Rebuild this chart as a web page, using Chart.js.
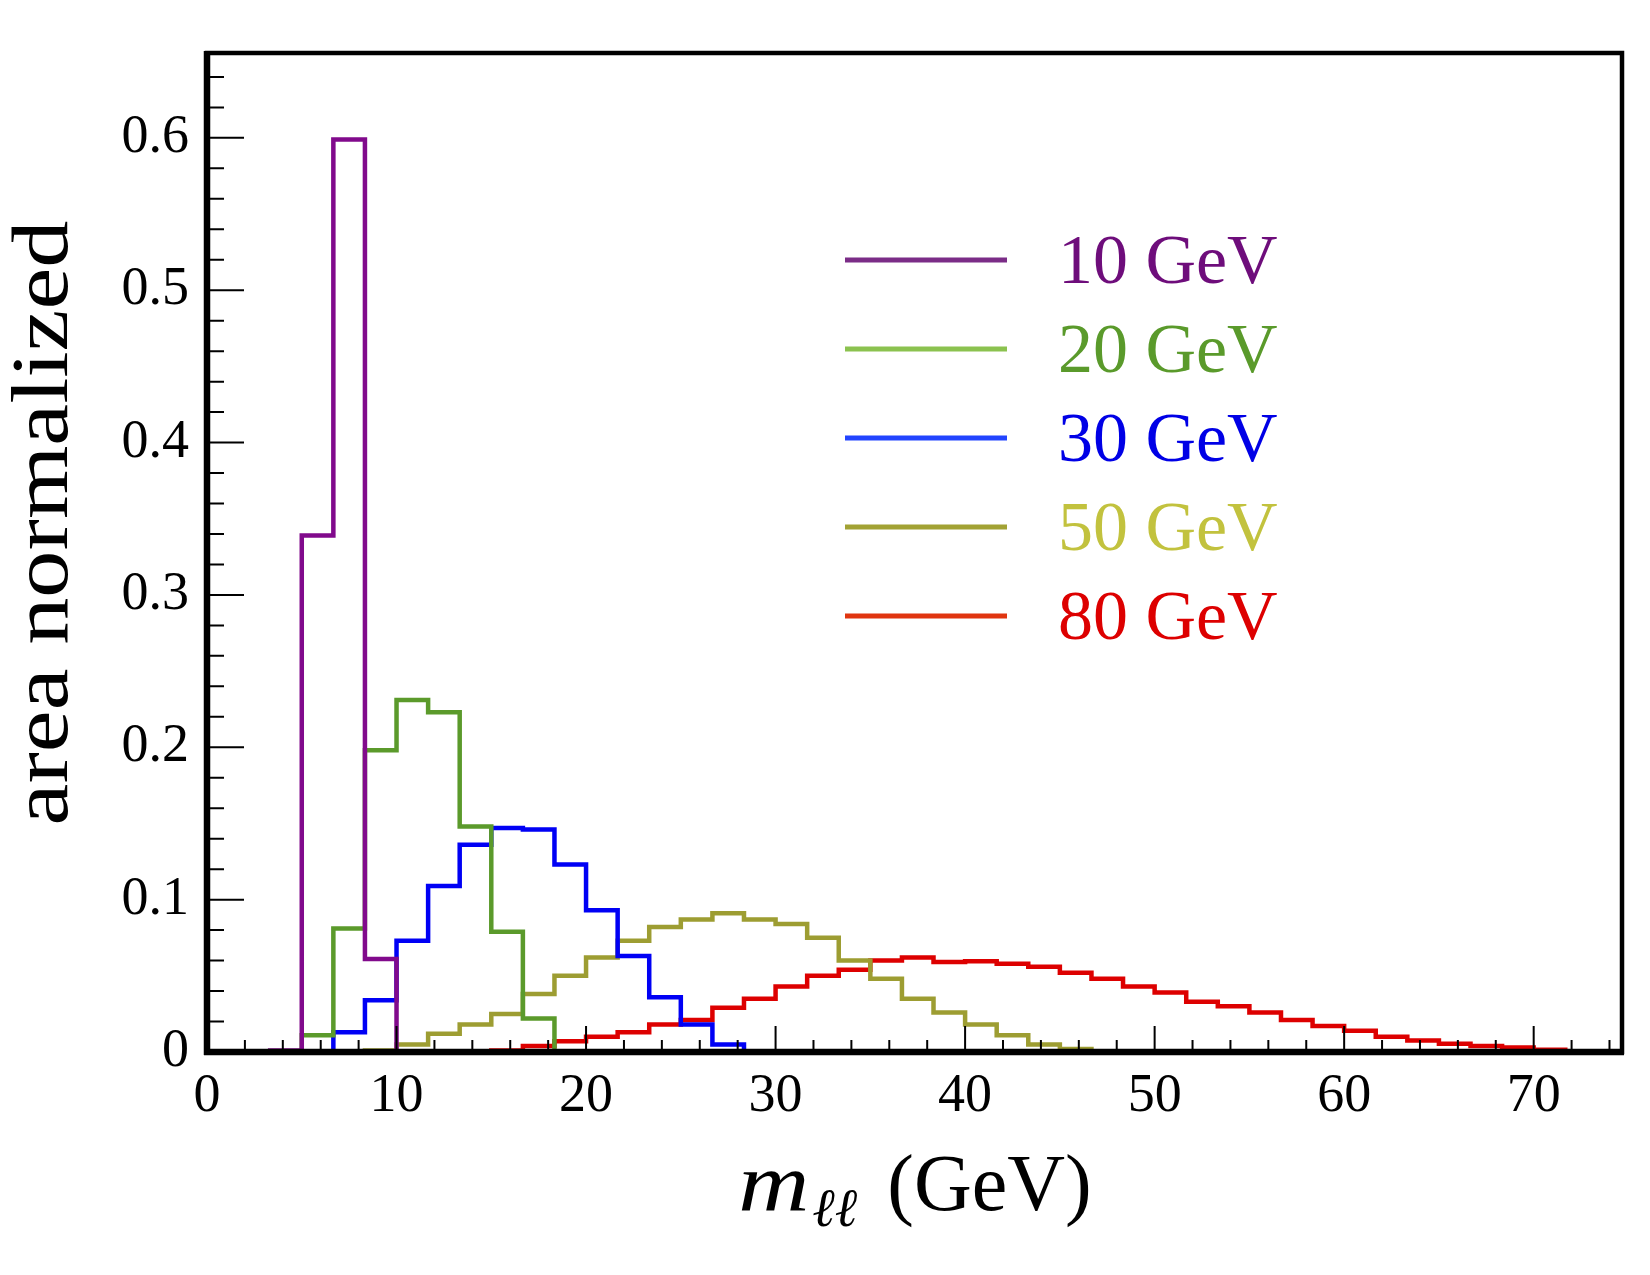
<!DOCTYPE html>
<html>
<head>
<meta charset="utf-8">
<title>m_ll distributions</title>
<script src="https://cdn.jsdelivr.net/npm/chart.js@4.4.1/dist/chart.umd.min.js"></script>
<style>
  html, body { margin: 0; padding: 0; background: #ffffff; }
</style>
</head>
<body>
<canvas id="mllChart" width="1650" height="1275"></canvas>
<script>
// histogram bin edges (GeV), bin width 5/3
const binEdges = [0, 1.667, 3.333, 5, 6.667, 8.333, 10, 11.667, 13.333, 15,
  16.667, 18.333, 20, 21.667, 23.333, 25, 26.667, 28.333, 30, 31.667,
  33.333, 35, 36.667, 38.333, 40, 41.667, 43.333, 45, 46.667, 48.333,
  50, 51.667, 53.333, 55, 56.667, 58.333, 60, 61.667, 63.333, 65,
  66.667, 68.333, 70, 71.667, 73.333];

// area normalized contents, one value per bin
const mass10 = [0, 0, 0.001, 0.339, 0.599, 0.061, 0, 0, 0, 0,
  0, 0, 0, 0, 0, 0, 0, 0, 0, 0, 0, 0, 0, 0, 0, 0, 0, 0, 0, 0,
  0, 0, 0, 0, 0, 0, 0, 0, 0, 0, 0, 0, 0, 0];
const mass20 = [0, 0, 0, 0.011, 0.081, 0.198, 0.231, 0.223, 0.148, 0.079,
  0.022, 0, 0, 0, 0, 0, 0, 0, 0, 0, 0, 0, 0, 0, 0, 0, 0, 0, 0, 0,
  0, 0, 0, 0, 0, 0, 0, 0, 0, 0, 0, 0, 0, 0];
const mass30 = [0, 0, 0, 0, 0.013, 0.034, 0.073, 0.109, 0.136, 0.147,
  0.146, 0.123, 0.093, 0.063, 0.036, 0.018, 0.005, 0, 0, 0,
  0, 0, 0, 0, 0, 0, 0, 0, 0, 0, 0, 0, 0, 0, 0, 0, 0, 0, 0, 0, 0, 0, 0, 0];
const mass50 = [0, 0, 0, 0, 0, 0.001, 0.005, 0.012, 0.018, 0.025,
  0.038, 0.050, 0.062, 0.073, 0.082, 0.087, 0.091, 0.087, 0.084, 0.075,
  0.060, 0.048, 0.035, 0.026, 0.018, 0.011, 0.005, 0.002, 0, 0,
  0, 0, 0, 0, 0, 0, 0, 0, 0, 0, 0, 0, 0, 0];
const mass80 = [0, 0, 0, 0, 0, 0, 0, 0, 0.0005, 0.001,
  0.004, 0.007, 0.010, 0.013, 0.018, 0.021, 0.029, 0.035, 0.043, 0.050,
  0.054, 0.060, 0.062, 0.059, 0.0595, 0.058, 0.056, 0.052, 0.048, 0.043,
  0.039, 0.033, 0.030, 0.026, 0.021, 0.017, 0.014, 0.010, 0.0076, 0.0054,
  0.004, 0.003, 0.0015, 0];

const seriesLabels = ['10 GeV', '20 GeV', '30 GeV', '50 GeV', '80 GeV'];
const seriesValues = [mass10, mass20, mass30, mass50, mass80];
const lineColors = ['#810a8c', '#5b9a2b', '#0000f5', '#9d9d32', '#dd0000'];
const legendLineColors = ['#7b2c87', '#8bc24f', '#2244ff', '#a2a234', '#e03510'];
const legendTextColors = ['#6e0d7b', '#5a9a2b', '#0000e6', '#c2c23e', '#dd0000'];

const xTicks = [0, 10, 20, 30, 40, 50, 60, 70];
const xMinorTicks = [2, 4, 6, 8, 12, 14, 16, 18, 22, 24, 26, 28, 32, 34, 36, 38,
  42, 44, 46, 48, 52, 54, 56, 58, 62, 64, 66, 68, 72, 74];
const yTicks = [0, 0.1, 0.2, 0.3, 0.4, 0.5, 0.6];
const yMinorTicks = [0.02, 0.04, 0.06, 0.08, 0.12, 0.14, 0.16, 0.18, 0.22, 0.24,
  0.26, 0.28, 0.32, 0.34, 0.36, 0.38, 0.42, 0.44, 0.46, 0.48, 0.52, 0.54,
  0.56, 0.58, 0.62, 0.64];

const serif = '"Liberation Serif", "DejaVu Serif", serif';

// step histogram: one point per left edge, plus closing point at the last right edge
function stepPoints(values) {
  const pts = values.map((v, i) => ({ x: binEdges[i], y: v }));
  pts.push({ x: binEdges[values.length], y: 0 });
  return pts;
}

const datasets = seriesValues.map((vals, i) => ({
  label: seriesLabels[i],
  data: stepPoints(vals),
  borderColor: lineColors[i],
  borderWidth: 4.5,
  stepped: 'before',
  pointRadius: 0,
  fill: false
}));

// inward ticks, heavy frame, titles and legend
const framePlugin = {
  id: 'framePlugin',
  afterDatasetsDraw(chart) {
    const { ctx, chartArea: a, scales } = chart;
    const xs = scales.x, ys = scales.y;
    ctx.save();
    ctx.strokeStyle = '#000';
    ctx.lineWidth = 2;
    ctx.beginPath();
    xTicks.forEach(v => {
      const px = xs.getPixelForValue(v);
      ctx.moveTo(px, a.bottom); ctx.lineTo(px, a.bottom - 26);
    });
    xMinorTicks.forEach(v => {
      const px = xs.getPixelForValue(v);
      ctx.moveTo(px, a.bottom); ctx.lineTo(px, a.bottom - 12);
    });
    yTicks.forEach(v => {
      const py = ys.getPixelForValue(v);
      ctx.moveTo(a.left, py); ctx.lineTo(a.left + 37, py);
    });
    yMinorTicks.forEach(v => {
      const py = ys.getPixelForValue(v);
      ctx.moveTo(a.left, py); ctx.lineTo(a.left + 17, py);
    });
    ctx.stroke();

    ctx.lineWidth = 4.5;
    ctx.strokeRect(a.left, a.top, a.right - a.left, a.bottom - a.top);
    ctx.lineWidth = 6.5;
    ctx.beginPath();
    ctx.moveTo(a.left, a.top - 2); ctx.lineTo(a.left, a.bottom + 3);
    ctx.moveTo(a.left - 3, a.bottom); ctx.lineTo(a.right + 2, a.bottom);
    ctx.stroke();
    ctx.restore();
  },
  afterDraw(chart) {
    const { ctx } = chart;
    ctx.save();
    ctx.fillStyle = '#000';

    // y axis title, widened a little along its length like the original
    const yTitle = 'area normalized';
    ctx.font = '80px ' + serif;
    const yw = ctx.measureText(yTitle).width;
    ctx.translate(67, 523);
    ctx.rotate(-Math.PI / 2);
    ctx.scale(605 / yw, 1);
    ctx.textAlign = 'center';
    ctx.textBaseline = 'alphabetic';
    ctx.fillText(yTitle, 0, 0);
    ctx.setTransform(1, 0, 0, 1, 0, 0);

    // x axis title: m_{ll} (GeV)
    const fBig = 'italic 82px ' + serif;
    const fSub = 'italic 54px ' + serif;
    const fRom = '80px ' + serif;
    const mStretch = 1.2;
    ctx.textAlign = 'left';
    ctx.font = fBig; const w1 = ctx.measureText('m').width * mStretch;
    ctx.font = fSub; const w2 = ctx.measureText('\u2113\u2113').width;
    ctx.font = fRom; const w3 = ctx.measureText('(GeV)').width;
    const gapA = 3, gapB = 30;
    let x0 = 915 - (w1 + gapA + w2 + gapB + w3) / 2;
    const base = 1210;
    ctx.font = fBig;
    ctx.save();
    ctx.translate(x0, base);
    ctx.scale(mStretch, 1);
    ctx.fillText('m', 0, 0);
    ctx.restore();
    x0 += w1 + gapA;
    ctx.font = fSub; ctx.fillText('\u2113\u2113', x0, base + 16); x0 += w2 + gapB;
    ctx.font = fRom; ctx.fillText('(GeV)', x0, base);

    // legend
    const legY0 = 260, legDy = 89;
    seriesLabels.forEach((lab, i) => {
      const y = legY0 + i * legDy;
      ctx.strokeStyle = legendLineColors[i];
      ctx.lineWidth = 5;
      ctx.beginPath();
      ctx.moveTo(845, y); ctx.lineTo(1007, y);
      ctx.stroke();
      ctx.fillStyle = legendTextColors[i];
      ctx.font = '70px ' + serif;
      ctx.fillText(lab, 1058, y + 23);
    });
    ctx.restore();
  }
};

new Chart(document.getElementById('mllChart'), {
  type: 'line',
  data: { datasets: datasets },
  options: {
    responsive: false,
    animation: false,
    layout: { padding: { top: 53, right: 28, left: 0, bottom: 0 } },
    plugins: {
      legend: { display: false },
      tooltip: { enabled: false }
    },
    scales: {
      x: {
        type: 'linear',
        min: 0,
        max: 74.66,
        grid: { display: false, drawTicks: false },
        border: { display: false },
        afterBuildTicks: s => { s.ticks = xTicks.map(v => ({ value: v })); },
        afterFit: s => { s.height = 1275 - 1052; },
        ticks: {
          color: '#000',
          padding: 12,
          maxRotation: 0,
          font: { family: serif, size: 54 }
        }
      },
      y: {
        type: 'linear',
        min: 0,
        max: 0.6557,
        grid: { display: false, drawTicks: false },
        border: { display: false },
        afterBuildTicks: s => { s.ticks = yTicks.map(v => ({ value: v })); },
        afterFit: s => { s.width = 207; },
        ticks: {
          color: '#000',
          padding: 18,
          font: { family: serif, size: 54 }
        }
      }
    }
  },
  plugins: [framePlugin]
});
</script>
</body>
</html>
